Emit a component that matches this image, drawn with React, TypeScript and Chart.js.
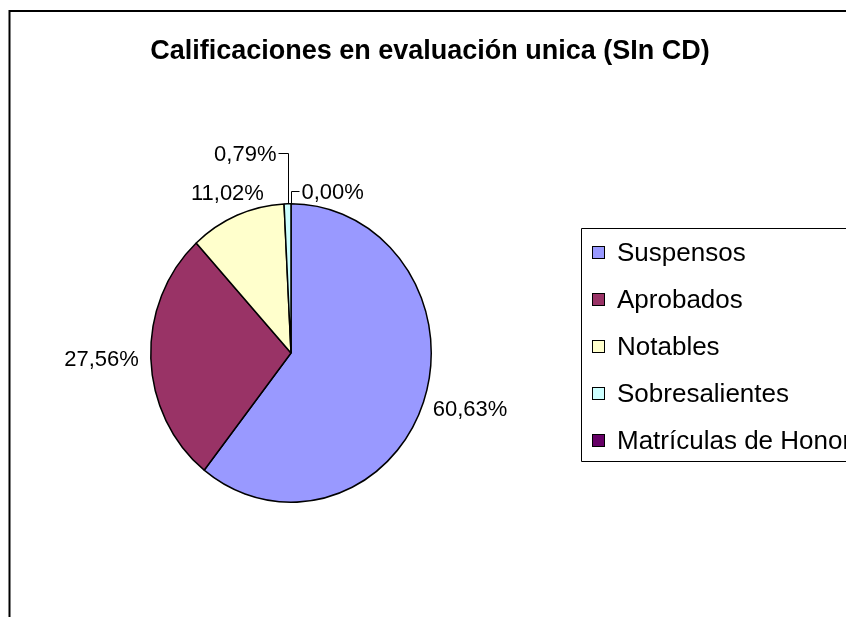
import React, { useEffect, useRef } from "react";
import { Chart, registerables } from "chart.js";

Chart.register(...registerables);

const titleText = "Calificaciones en evaluación unica (SIn CD)";
const categories = ["Suspensos", "Aprobados", "Notables", "Sobresalientes", "Matrículas de Honor"];
const counts = [77, 35, 14, 1, 0];
const colors = ["#9999FF", "#993366", "#FFFFCC", "#CCFFFF", "#660066"];

const FONT = "'Liberation Sans', Arial, sans-serif";
const STRETCH_Y = 1.064;

const fmtPct = (v: number, total: number) => (total ? (v / total) * 100 : 0).toFixed(2).replace(".", ",") + "%";

const decorPlugin = {
  id: "decor",
  beforeDatasetsDraw(chart: any) {
    const { ctx, chartArea } = chart;
    const cy = (chartArea.top + chartArea.bottom) / 2;
    ctx.save();
    ctx.translate(0, cy);
    ctx.scale(1, STRETCH_Y);
    ctx.translate(0, -cy);
  },
  afterDatasetsDraw(chart: any) {
    chart.ctx.restore();
  },
  afterDraw(chart: any) {
    const { ctx, width, height } = chart;
    ctx.save();
    // frame
    ctx.strokeStyle = "#000";
    ctx.lineWidth = 2;
    ctx.beginPath();
    ctx.moveTo(9.5, height);
    ctx.lineTo(9.5, 11);
    ctx.lineTo(width, 11);
    ctx.stroke();

    // title
    ctx.fillStyle = "#000";
    ctx.font = `bold 27px ${FONT}`;
    ctx.textAlign = "center";
    ctx.textBaseline = "middle";
    ctx.fillText(titleText, 430, 52);

    // data labels
    const meta = chart.getDatasetMeta(0);
    const data: number[] = chart.data.datasets[0].data;
    const total = data.reduce((a, b) => a + b, 0);
    ctx.font = `22px ${FONT}`;
    let smallIdx = 0;
    meta.data.forEach((arc: any, i: number) => {
      const mid = (arc.startAngle + arc.endAngle) / 2;
      const dx = Math.cos(mid);
      const dy = Math.sin(mid);
      const R = arc.outerRadius;
      const ex = arc.x + R * dx;
      const ey = arc.y + STRETCH_Y * R * dy;
      const txt = fmtPct(data[i], total);
      const share = total ? data[i] / total : 0;
      if (share < 0.02) {
        ctx.strokeStyle = "#000";
        ctx.lineWidth = 1;
        const left = smallIdx % 2 === 0;
        const rise = smallIdx === 0 ? 51 : 13;
        const lx = Math.round(ex) + 0.5;
        const ly = Math.round(ey - rise) + 0.5;
        ctx.beginPath();
        ctx.moveTo(lx, ey);
        ctx.lineTo(lx, ly);
        ctx.lineTo(left ? lx - 10 : lx + 8, ly);
        ctx.stroke();
        ctx.textAlign = left ? "right" : "left";
        ctx.textBaseline = "middle";
        ctx.fillText(txt, left ? lx - 12 : lx + 10, ly + 1);
        smallIdx++;
      } else {
        const w = ctx.measureText(txt).width;
        const h = 16;
        let cx: number, cyy: number;
        if (Math.abs(dy) > Math.abs(dx)) {
          const t = Math.min(w / 2 / Math.max(Math.abs(dx), 1e-6), h / 2 / Math.abs(dy));
          cx = ex + dx * (16 + t);
          cyy = ey + dy * (16 + t);
        } else {
          const d = 12;
          cx = ex + dx * d + (dx * w) / 2;
          cyy = ey + dy * d + (dy * h) / 2;
        }
        ctx.textAlign = "center";
        ctx.textBaseline = "middle";
        ctx.fillText(txt, cx, cyy + 1);
      }
    });

    // legend
    const bx = 581.5, by = 228.5;
    ctx.strokeStyle = "#000";
    ctx.lineWidth = 1;
    ctx.fillStyle = "#fff";
    ctx.beginPath();
    ctx.rect(bx, by, width, 233);
    ctx.fill();
    ctx.stroke();
    ctx.font = `26px ${FONT}`;
    ctx.textAlign = "left";
    ctx.textBaseline = "middle";
    const bg: string[] = chart.data.datasets[0].backgroundColor;
    chart.data.labels.forEach((lab: string, i: number) => {
      const yc = 252.5 + i * 47;
      ctx.fillStyle = bg[i];
      ctx.fillRect(592, yc - 6.5, 13, 13);
      ctx.strokeStyle = "#000";
      ctx.strokeRect(592.5, yc - 6, 12, 12);
      ctx.fillStyle = "#000";
      ctx.fillText(lab, 617, yc + 1);
    });
    ctx.restore();
  },
};

export default function App() {
  const ref = useRef<HTMLCanvasElement | null>(null);
  useEffect(() => {
    if (!ref.current) return;
    const chart = new Chart(ref.current, {
      type: "pie",
      data: {
        labels: categories,
        datasets: [
          {
            data: counts,
            backgroundColor: colors,
            borderColor: "#000",
            borderWidth: 1.5,
            clip: false as any,
          },
        ],
      },
      options: {
        responsive: false,
        animation: false,
        layout: { padding: { left: 150, top: 212, right: 414, bottom: 123 } },
        plugins: {
          legend: { display: false },
          title: { display: false },
          tooltip: { enabled: false },
        },
      },
      plugins: [decorPlugin],
    });
    return () => chart.destroy();
  }, []);
  return (
    <div style={{ position: "fixed", left: 0, top: 0, width: 846, height: 617, background: "#fff" }}>
      <canvas ref={ref} width={846} height={617} style={{ display: "block" }} />
    </div>
  );
}
